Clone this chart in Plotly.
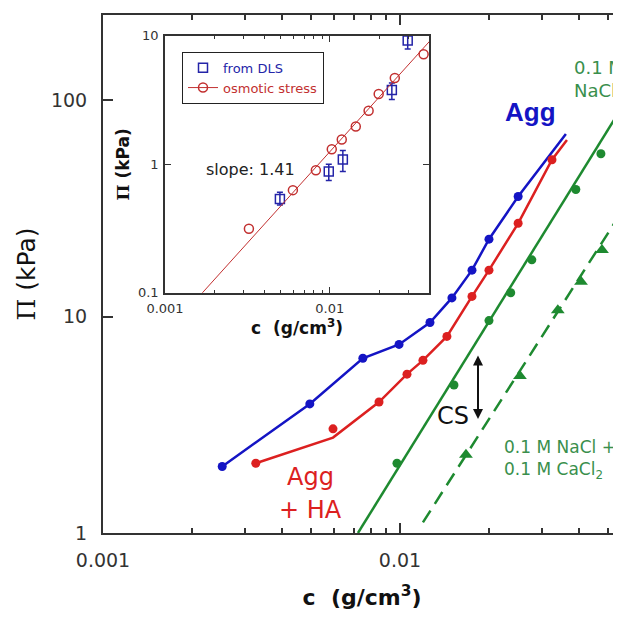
import plotly.graph_objects as go

# ---------------- main panel data ----------------
agg_c = [0.00252, 0.00497, 0.0075, 0.00993, 0.01262, 0.01496, 0.01748, 0.01994, 0.0250]
agg_pi = [2.03, 3.95, 6.42, 7.44, 9.39, 12.2, 16.4, 22.8, 35.9]
agg_line_c = [0.00252, 0.00497, 0.0075, 0.00993, 0.01262, 0.01496, 0.01748, 0.01994, 0.0250, 0.0362]
agg_line_pi = [2.03, 3.95, 6.42, 7.44, 9.39, 12.2, 16.4, 22.8, 35.9, 69.8]

ha_c = [0.00327, 0.00595, 0.00850, 0.01056, 0.01195, 0.01439, 0.01748, 0.01994, 0.0250, 0.0325]
ha_pi = [2.10, 3.03, 4.03, 5.42, 6.28, 8.10, 12.4, 16.4, 27.0, 53.1]
ha_line_c = [0.00327, 0.00595, 0.00850, 0.01056, 0.01195, 0.01439, 0.01748, 0.01994, 0.0250, 0.0325, 0.0365]
ha_line_pi = [2.10, 2.76, 4.03, 5.42, 6.28, 8.10, 12.4, 16.4, 27.0, 53.1, 65.5]

nacl_c = [0.00977, 0.0152, 0.01994, 0.0236, 0.0278, 0.0391, 0.0475]
nacl_pi = [2.10, 4.83, 9.59, 12.9, 18.3, 38.7, 56.6]
nacl_fit_c = [0.00722, 0.0551]
nacl_fit_pi = [1.0, 90.0]

cacl_c = [0.01668, 0.02535, 0.0340, 0.0407, 0.0479, 0.0551]
cacl_pi = [2.30, 5.31, 10.7, 14.5, 20.3, 29.4]
cacl_fit_c = [0.01195, 0.0551]
cacl_fit_pi = [1.12, 29.7]

main_xticks = [0.001, 0.01]
main_xticktext = ["0.001", "0.01"]
main_xminor = [0.002, 0.003, 0.004, 0.005, 0.006, 0.007, 0.008, 0.009, 0.02, 0.03, 0.04, 0.05]
main_yticks = [1, 10, 100]
main_yticktext = ["1", "10", "100"]

# ---------------- inset data ----------------
osm_c = [0.00323, 0.00597, 0.00823, 0.01028, 0.01182, 0.01438, 0.0172, 0.0198, 0.0248, 0.0371]
osm_pi = [0.315, 0.63, 0.90, 1.31, 1.56, 1.97, 2.61, 3.53, 4.70, 7.2]
osm_fit_c = [0.0015, 0.045]
osm_fit_pi = [0.0848, 10.6]

dls_c = [0.00498, 0.00986, 0.0120, 0.0238, 0.0297]
dls_pi = [0.537, 0.88, 1.09, 3.79, 9.2]
dls_err_up = [0.07, 0.12, 0.19, 0.5, 1.3]
dls_err_down = [0.055, 0.13, 0.21, 0.6, 1.3]

inset_xticks = [0.001, 0.01]
inset_xticktext = ["0.001", "0.01"]
inset_xminor = [0.002, 0.003, 0.004, 0.005, 0.006, 0.007, 0.008, 0.009, 0.02, 0.03]
inset_yticks = [0.1, 1, 10]
inset_yticktext = ["0.1", "1", "10"]

BLUE = "#1414c4"
RED = "#dc2020"
GREEN = "#1e8a30"
GREEN_TXT = "#3a8f4c"
INSET_RED = "#c23030"
INSET_BLUE = "#2424a8"
AXC = "#333333"
FONT = "DejaVu Sans"

OFF = 8  # page body margin
W, H = 621 - OFF, 617 - OFF
ML, MR, MT, MB = 103 - OFF, 0, 11 - OFF, 84
PW, PH = W - ML - MR, H - MT - MB


def px(x, y):
    """page pixel -> paper fraction"""
    return (x - OFF - ML) / PW, (H - MB - (y - OFF)) / PH


fig = go.Figure()

# main traces
fig.add_trace(go.Scatter(x=agg_line_c, y=agg_line_pi, mode="lines",
                         line=dict(color=BLUE, width=2.5), showlegend=False))
fig.add_trace(go.Scatter(x=agg_c, y=agg_pi, mode="markers",
                         marker=dict(color=BLUE, size=9), showlegend=False))
fig.add_trace(go.Scatter(x=ha_line_c, y=ha_line_pi, mode="lines",
                         line=dict(color=RED, width=2.5), showlegend=False))
fig.add_trace(go.Scatter(x=ha_c, y=ha_pi, mode="markers",
                         marker=dict(color=RED, size=9), showlegend=False))
fig.add_trace(go.Scatter(x=nacl_fit_c, y=nacl_fit_pi, mode="lines",
                         line=dict(color=GREEN, width=2.5), showlegend=False))
fig.add_trace(go.Scatter(x=nacl_c, y=nacl_pi, mode="markers",
                         marker=dict(color=GREEN, size=9), showlegend=False))
fig.add_trace(go.Scatter(x=cacl_fit_c, y=cacl_fit_pi, mode="lines",
                         line=dict(color=GREEN, width=2.5, dash="14px,8px"), showlegend=False))
fig.add_trace(go.Scatter(x=cacl_c, y=cacl_pi, mode="markers",
                         marker=dict(color=GREEN, size=12, symbol="triangle-up"), showlegend=False))

# inset traces
fig.add_trace(go.Scatter(x=dls_c, y=dls_pi, mode="markers", xaxis="x2", yaxis="y2",
                         name='<span style="color:%s">from DLS</span>' % INSET_BLUE,
                         marker=dict(symbol="square-open", size=9, color=INSET_BLUE,
                                     line=dict(width=1.5, color=INSET_BLUE)),
                         error_y=dict(type="data", array=dls_err_up, arrayminus=dls_err_down,
                                      color=INSET_BLUE, thickness=1.5, width=3)))
fig.add_trace(go.Scatter(x=osm_fit_c, y=osm_fit_pi, mode="lines+markers", xaxis="x2", yaxis="y2",
                         name='<span style="color:%s">osmotic stress</span>' % INSET_RED,
                         line=dict(color=INSET_RED, width=1),
                         marker=dict(symbol="circle-open", size=9, color=INSET_RED,
                                     line=dict(width=1.5, color=INSET_RED))))
fig.add_trace(go.Scatter(x=osm_c, y=osm_pi, mode="markers", xaxis="x2", yaxis="y2",
                         showlegend=False,
                         marker=dict(symbol="circle-open", size=9, color=INSET_RED,
                                     line=dict(width=1.5, color=INSET_RED))))

ix0, iy0 = px(165, 291)
ix1, iy1 = px(429, 32)

axis_common = dict(showgrid=False, zeroline=False, showline=True, linecolor=AXC,
                   tickcolor=AXC, type="log")

fig.update_layout(
    width=W, height=H,
    margin=dict(l=ML, r=MR, t=MT, b=MB),
    paper_bgcolor="white", plot_bgcolor="white",
    font=dict(family=FONT, color=AXC),
    xaxis=dict(**axis_common, domain=[0, 1], range=[-3, -1.2557], linewidth=2,
               mirror="allticks", ticks="inside", ticklen=10, tickwidth=1.5,
               tickvals=main_xticks, ticktext=main_xticktext, ticklabelstandoff=9,
               tickfont=dict(size=19, color="#333"),
               minor=dict(tickvals=main_xminor, ticks="inside", ticklen=5, tickwidth=1.5,
                          tickcolor=AXC, showgrid=False),
               title=dict(text="<b>c  (g/cm<sup>3</sup>)</b>", font=dict(size=22, color="#111"),
                          standoff=20)),
    yaxis=dict(**axis_common, domain=[0, 1], range=[0, 2.394], linewidth=2,
               mirror=False, ticks="inside", ticklen=10, tickwidth=1.5,
               tickvals=main_yticks, ticktext=main_yticktext, ticklabelstandoff=10,
               tickfont=dict(size=19, color="#333"),
               title=dict(text='<span style="font-family:DejaVu Serif">Π</span> (kPa)',
                          font=dict(size=25, color="#111"), standoff=8)),
    xaxis2=dict(**axis_common, anchor="y2", domain=[ix0, ix1], range=[-3, -1.398],
                linewidth=1.5, mirror="allticks", ticks="inside", ticklen=6, tickwidth=1,
                tickvals=inset_xticks, ticktext=inset_xticktext, ticklabelstandoff=3,
                tickfont=dict(size=13, color="#333"),
                minor=dict(tickvals=inset_xminor, ticks="inside", ticklen=3, tickwidth=1,
                           tickcolor=AXC, showgrid=False),
                title=dict(text="<b>c  (g/cm<sup>3</sup>)</b>", font=dict(size=17, color="#111"),
                           standoff=4)),
    yaxis2=dict(**axis_common, anchor="x2", domain=[iy0, iy1], range=[-1, 1],
                linewidth=1.5, mirror="allticks", ticks="inside", ticklen=6, tickwidth=1,
                tickvals=inset_yticks, ticktext=inset_yticktext, ticklabelstandoff=2,
                tickfont=dict(size=13, color="#333"),
                title=dict(text='<b><span style="font-family:DejaVu Serif">Π</span> (kPa)</b>',
                           font=dict(size=17, color="#111"), standoff=4)),
    legend=dict(x=px(182, 48)[0], y=px(182, 48)[1], xanchor="left", yanchor="top",
                bgcolor="white", bordercolor="#222", borderwidth=1,
                font=dict(size=13, family=FONT), itemwidth=30, tracegroupgap=0),
)

shapes = [dict(type="rect", xref="paper", yref="paper", x0=ix0, y0=iy0, x1=ix1, y1=iy1,
               fillcolor="white", line=dict(width=0), layer="below")]
fig.update_layout(shapes=shapes)

ann = []


def text(x, y, t, size, color, xanchor="center", bold=False, family=FONT, align="center"):
    xx, yy = px(x, y)
    ann.append(dict(x=xx, y=yy, xref="paper", yref="paper", text=("<b>%s</b>" % t if bold else t),
                    showarrow=False, xanchor=xanchor, yanchor="middle", align=align,
                    font=dict(size=size, color=color, family=family)))


text(530, 109, "Agg", 26, BLUE, bold=True, family="Liberation Sans")
text(310, 477, "Agg", 24, RED)
text(310, 510, "+ HA", 24, RED)
text(572, 75, "0.1 M<br>NaCl", 18, GREEN_TXT, xanchor="left", align="left")
text(502, 459, "0.1 M NaCl +<br>0.1 M CaCl<sub>2</sub>", 17, GREEN_TXT, xanchor="left", align="left")
text(453, 415, "CS", 24, "#111")
text(250, 167, "slope: 1.41", 16, "#222")

hx, hy = px(478, 418)
ann.append(dict(x=hx, y=hy, xref="paper", yref="paper", ax=0, ay=-65, text="",
                showarrow=True, arrowhead=2, arrowside="end+start", arrowsize=1,
                arrowwidth=2, arrowcolor="#111"))
fig.update_layout(annotations=ann)

fig.write_html("out.html")
